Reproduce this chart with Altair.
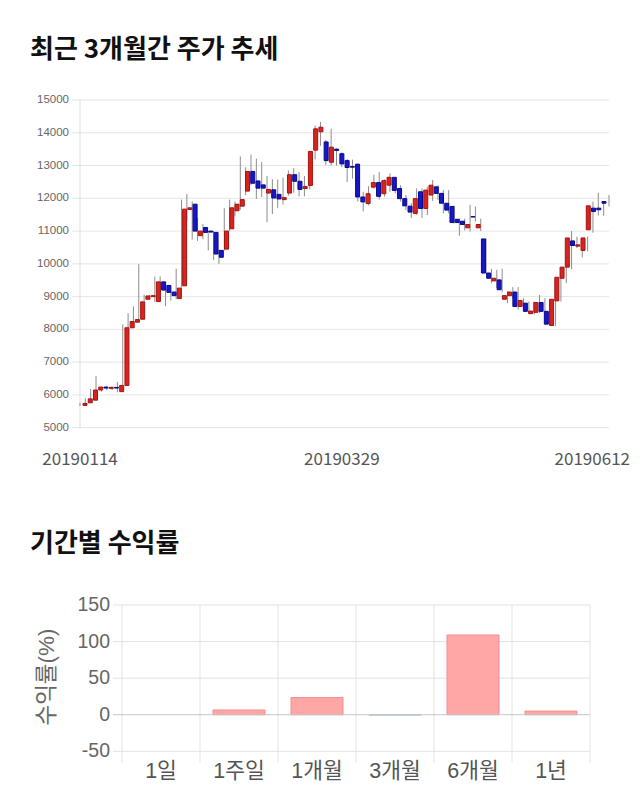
import altair as alt
import pandas as pd

# ---------------- top chart: daily candles ----------------
opens = [5680, 5760, 5840, 6150, 6240, 6200, 6230, 6100, 6290, 8050,
         8220, 8310, 8920, 9000, 8850, 9450, 9340, 9140, 8940, 9330,
         11660, 11820, 10860, 11110, 11000, 10960, 10410, 10450, 11070, 11620,
         11760, 12220, 12820, 12530, 12410, 12160, 12260, 12120, 11960, 12160,
         12720, 12520, 12300, 12390, 13470, 14030, 13720, 13100, 13500, 13360,
         13150, 12970, 13040, 12040, 11840, 12340, 12480, 12140, 12400, 12640,
         12300, 11990, 11760, 11540, 12200, 11690, 12100, 12350, 12150, 11850,
         11750, 11360, 11300, 11100, 11440, 11100, 10760, 9720, 9480, 9510,
         8920, 9030, 9140, 8700, 8800, 8480, 8520, 8820, 8550, 8120,
         8870, 9560, 9900, 10700, 10540, 10410, 11040, 11700, 11700, 11900]
highs = [5760, 5900, 6180, 6580, 6250, 6270, 6260, 6400, 8150, 8490,
         8700, 9990, 9060, 9050, 9610, 9620, 9380, 9200, 9850, 11960,
         12130, 11900, 11400, 11220, 11010, 11000, 10440, 11700, 11960, 11900,
         13280, 12950, 13330, 13210, 13110, 12680, 12580, 12570, 12630, 12850,
         12920, 12800, 12680, 13450, 14220, 14330, 13780, 14120, 13520, 13400,
         13200, 13180, 13060, 12200, 12370, 12720, 12800, 12580, 12760, 12650,
         12400, 12100, 11850, 12300, 12300, 12350, 12560, 12400, 12250, 12250,
         11780, 11380, 11380, 11800, 11750, 11380, 10780, 9850, 9820, 9850,
         9160, 9290, 9290, 8950, 8850, 8850, 9050, 8950, 8560, 9210,
         9720, 10170, 11000, 10830, 10680, 10830, 11900, 12170, 11920, 12100]
lows = [5660, 5740, 5820, 6120, 6100, 6150, 6150, 6080, 6280, 7830,
        8150, 8280, 8850, 8980, 8840, 8920, 8710, 8880, 8920, 9280,
        11300, 10740, 10700, 10750, 10410, 10120, 10000, 10400, 11000, 11450,
        11650, 12100, 12400, 11980, 12040, 11270, 11520, 11710, 11810, 12080,
        12170, 12060, 12060, 12270, 13190, 13600, 13020, 13000, 13000, 12950,
        12500, 12600, 11900, 11600, 11790, 12300, 11960, 12050, 12200, 12150,
        11900, 11640, 11400, 11500, 11400, 11490, 11920, 11950, 11540, 11540,
        11230, 10860, 11020, 10990, 11290, 11000, 9700, 9410, 9260, 9130,
        8800, 8950, 8600, 8600, 8500, 8450, 8500, 8500, 8140, 8110,
        8850, 9410, 9840, 10480, 10200, 10380, 10950, 11470, 11470, 11750]
closes = [5740, 5880, 6150, 6240, 6210, 6230, 6210, 6290, 8050, 8240,
          8300, 8840, 9020, 9030, 9450, 9200, 9130, 9030, 9260, 11670,
          11710, 11000, 11000, 10960, 10970, 10300, 10200, 11000, 11710, 11820,
          11960, 12820, 12460, 12310, 12310, 12270, 12010, 11980, 12020, 12720,
          12520, 12270, 12360, 13430, 14120, 14170, 13150, 13560, 13460, 13050,
          12940, 12950, 12040, 11890, 12140, 12480, 12060, 12540, 12640, 12240,
          11990, 11770, 11580, 11990, 11690, 12250, 12400, 12150, 11850, 11640,
          11260, 11260, 11200, 11200, 11430, 11200, 9720, 9560, 9560, 9210,
          9030, 9140, 8700, 8880, 8550, 8560, 8820, 8550, 8160, 8920,
          9590, 9900, 10790, 10560, 10580, 10790, 11770, 11600, 11650, 11850]
price_ticks = [5000, 6000, 7000, 8000, 9000, 10000, 11000, 12000, 13000, 14000, 15000]
date_tick_idx = [0, 49, 99]
date_tick_labels = ["20190114", "20190329", "20190612"]

# ---------------- bottom chart: returns by period ----------------
periods = ["1일", "1주일", "1개월", "3개월", "6개월", "1년"]
returns = [0, 6.5, 23.5, -0.5, 109, 5]
return_ticks = [-50, 0, 50, 100, 150]

RED, RED_EDGE = "#d8231f", "#a3140f"
BLUE, BLUE_EDGE = "#1717c8", "#08088c"
PINK, PINK_EDGE = "#ffa6a6", "#f08f8f"
NEG, NEG_EDGE = "#b9c7e6", "#a9b9dc"
GRID = "#e6e6e6"
NUM_FONT = "Liberation Sans"
KR_FONT = "Noto Sans CJK KR"

n = len(opens)
candles = pd.DataFrame({"idx": list(range(n)), "open": opens, "high": highs,
                        "low": lows, "close": closes})

X_TOP = alt.Scale(domain=[0, n - 1], range=[80, 609], nice=False, zero=False)
Y_TOP = alt.Scale(domain=[min(price_ticks), max(price_ticks)], range=[427.7, 100],
                  nice=False, zero=False)

top_grid = pd.DataFrame({"v": price_ticks, "lo": 0, "hi": n - 1})
top_axis = pd.DataFrame({"x": [0], "y1": [min(price_ticks)], "y2": [max(price_ticks)]})
date_df = pd.DataFrame({"idx": date_tick_idx, "label": date_tick_labels})

grid_top = alt.Chart(top_grid).mark_rule(color=GRID, strokeWidth=1, xOffset=-8).encode(
    x=alt.X("lo:Q", scale=X_TOP, axis=None),
    x2="hi:Q",
    y=alt.Y("v:Q", scale=Y_TOP, axis=None),
)
axis_top = alt.Chart(top_axis).mark_rule(color="#dddddd", strokeWidth=1).encode(
    x=alt.X("x:Q", scale=X_TOP, axis=None),
    y=alt.Y("y1:Q", scale=Y_TOP, axis=None),
    y2="y2:Q",
)
ylab_top = alt.Chart(top_grid).mark_text(
    align="right", baseline="middle", dx=-11, fontSize=11.5, font=NUM_FONT, color="#666666"
).encode(
    x=alt.X("lo:Q", scale=X_TOP, axis=None),
    y=alt.Y("v:Q", scale=Y_TOP, axis=None),
    text=alt.Text("v:Q", format="d"),
)
wicks = alt.Chart(candles).mark_rule(color="#8c8c8c", strokeWidth=1).encode(
    x=alt.X("idx:Q", scale=X_TOP, axis=None),
    y=alt.Y("low:Q", scale=Y_TOP, axis=None),
    y2="high:Q",
)
up = "datum.close >= datum.open"
bodies = alt.Chart(candles).mark_bar(size=4, strokeWidth=1).encode(
    x=alt.X("idx:Q", scale=X_TOP, axis=None),
    y=alt.Y("open:Q", scale=Y_TOP, axis=None),
    y2="close:Q",
    fill=alt.condition(up, alt.value(RED), alt.value(BLUE)),
    stroke=alt.condition(up, alt.value(RED_EDGE), alt.value(BLUE_EDGE)),
)
xlab_mid = alt.Chart(date_df.iloc[:-1]).mark_text(
    align="center", baseline="middle", fontSize=17, font=KR_FONT, color="#555555"
).encode(
    x=alt.X("idx:Q", scale=X_TOP, axis=None),
    y=alt.value(460),
    text="label:N",
)
xlab_last = alt.Chart(date_df.iloc[-1:]).mark_text(
    align="right", baseline="middle", dx=21, fontSize=17, font=KR_FONT, color="#555555"
).encode(
    x=alt.X("idx:Q", scale=X_TOP, axis=None),
    y=alt.value(460),
    text="label:N",
)
title_top = alt.Chart(pd.DataFrame({"t": ["최근 3개월간 주가 추세"]})).mark_text(
    align="left", baseline="middle", fontSize=26, fontWeight="bold", font=KR_FONT, color="#111111"
).encode(x=alt.value(30), y=alt.value(50), text="t:N")

# ---------------- bottom chart layers ----------------
m = len(periods)
E = alt.Scale(domain=[-0.5, m - 0.5], range=[122, 590], nice=False, zero=False)
XB = alt.Scale(domain=periods, range=[122, 590], paddingInner=1 / 3, paddingOuter=1 / 6)
YB = alt.Scale(domain=[min(return_ticks), max(return_ticks)], range=[751.3, 605],
               nice=False, zero=False)

ret_df = pd.DataFrame({"period": periods, "ret": returns})
edges_df = pd.DataFrame({"e": [i - 0.5 for i in range(m + 1)],
                         "top": max(return_ticks), "bot": min(return_ticks)})
hgrid_df = pd.DataFrame({"v": return_ticks, "label": [str(t) for t in return_ticks],
                         "lo": -0.5, "hi": m - 0.5})

vgrid = alt.Chart(edges_df).mark_rule(color="#e3e3e3", strokeWidth=1, y2Offset=11).encode(
    x=alt.X("e:Q", scale=E, axis=None),
    y=alt.Y("top:Q", scale=YB, axis=None),
    y2="bot:Q",
)
hgrid = alt.Chart(hgrid_df).transform_filter("datum.v != 0").mark_rule(
    color="#e3e3e3", strokeWidth=1, xOffset=-9
).encode(
    x=alt.X("lo:Q", scale=E, axis=None),
    x2="hi:Q",
    y=alt.Y("v:Q", scale=YB, axis=None),
)
zero_line = alt.Chart(hgrid_df).transform_filter("datum.v == 0").mark_rule(
    color="#c6c6c6", strokeWidth=1, xOffset=-9
).encode(
    x=alt.X("lo:Q", scale=E, axis=None),
    x2="hi:Q",
    y=alt.Y("v:Q", scale=YB, axis=None),
)
pos = "datum.ret > 0"
bars = alt.Chart(ret_df).transform_filter("datum.ret != 0").mark_bar(strokeWidth=1).encode(
    x=alt.X("period:N", scale=XB, axis=None),
    y=alt.Y("ret:Q", scale=YB, axis=None),
    fill=alt.condition(pos, alt.value(PINK), alt.value(NEG)),
    stroke=alt.condition(pos, alt.value(PINK_EDGE), alt.value(NEG_EDGE)),
)
ylab_bot = alt.Chart(hgrid_df).mark_text(
    align="right", baseline="middle", dx=-12, fontSize=19.5, font=NUM_FONT, color="#666666"
).encode(
    x=alt.X("lo:Q", scale=E, axis=None),
    y=alt.Y("v:Q", scale=YB, axis=None),
    text="label:N",
)
xlab_bot = alt.Chart(ret_df).mark_text(
    align="center", baseline="middle", fontSize=21.5,
    font=NUM_FONT + ", " + KR_FONT, color="#555555"
).encode(
    x=alt.X("period:N", scale=XB, axis=None),
    y=alt.value(772),
    text="period:N",
)
ytitle_bot = alt.Chart(pd.DataFrame({"t": ["수익률(%)"]})).mark_text(
    angle=270, align="center", baseline="middle", fontSize=22.5,
    font=NUM_FONT + ", " + KR_FONT, color="#666666"
).encode(x=alt.value(47), y=alt.value(677), text="t:N")
title_bot = alt.Chart(pd.DataFrame({"t": ["기간별 수익률"]})).mark_text(
    align="left", baseline="middle", fontSize=26, fontWeight="bold", font=KR_FONT, color="#111111"
).encode(x=alt.value(30), y=alt.value(544), text="t:N")

chart = alt.layer(
    grid_top, axis_top, ylab_top, wicks, bodies, xlab_mid, xlab_last, title_top,
    vgrid, hgrid, bars, zero_line, ylab_bot, xlab_bot, ytitle_bot, title_bot,
).resolve_scale(
    x="independent", y="independent"
).properties(
    width=640, height=810, padding=0,
    autosize=alt.AutoSizeParams(type="none"),
    background="white",
).configure_view(stroke=None)

chart.save("out.html", embed_options={"renderer": "svg", "actions": False})
